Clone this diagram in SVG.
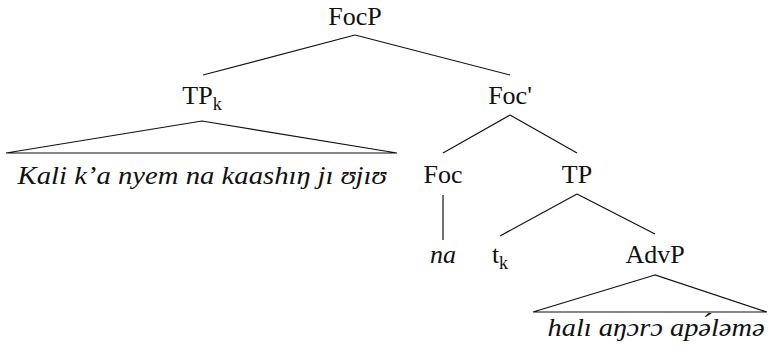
<svg xmlns="http://www.w3.org/2000/svg" width="768" height="353" viewBox="0 0 768 353" font-family="'Liberation Serif', 'DejaVu Serif', 'Times New Roman', serif">
<style>
text{font-family:'Liberation Serif','DejaVu Serif','Times New Roman',serif;font-size:26px;fill:#111;text-anchor:middle}
.it{font-style:italic}
.sub{font-size:18px}
.edge{stroke:#111;stroke-width:1.2;fill:none}
</style>
<rect width="768" height="353" fill="#fff"/>
<g id="connectors">
<line class="edge" x1="355" y1="35" x2="203" y2="75"/>
<line class="edge" x1="355" y1="35" x2="510" y2="75"/>
<polygon class="edge" points="202,121 6,153 397,153"/>
<line class="edge" x1="510" y1="115" x2="443" y2="153"/>
<line class="edge" x1="510" y1="115" x2="577" y2="153"/>
<line class="edge" x1="443" y1="195" x2="443" y2="240"/>
<line class="edge" x1="577" y1="194" x2="500" y2="236"/>
<line class="edge" x1="577" y1="194" x2="655" y2="234"/>
<polygon class="edge" points="655,275 533,312 767,312"/>
</g>
<g id="FocP"><text x="355" y="25" font-family="Liberation Serif, serif">FocP</text></g>
<g id="TPk"><text x="202" y="104">TP<tspan class="sub" dy="6">k</tspan></text></g>
<g id="FocBar"><text x="510" y="104">Foc'</text></g>
<g id="TPk-terminal"><text class="it" x="202" y="184" textLength="369" lengthAdjust="spacingAndGlyphs">Kali k’a nyem na kaashıŋ jı ʊjıʊ</text></g>
<g id="Foc"><text x="443" y="183">Foc</text></g>
<g id="TP"><text x="577" y="183">TP</text></g>
<g id="na"><text class="it" x="443" y="263">na</text></g>
<g id="tk"><text x="500" y="263">t<tspan class="sub" dy="6">k</tspan></text></g>
<g id="AdvP"><text x="655" y="263">AdvP</text></g>
<g id="AdvP-terminal"><text class="it" x="656" y="336" textLength="217" lengthAdjust="spacingAndGlyphs">halı aŋɔrɔ apə́ləmə</text></g>
</svg>
